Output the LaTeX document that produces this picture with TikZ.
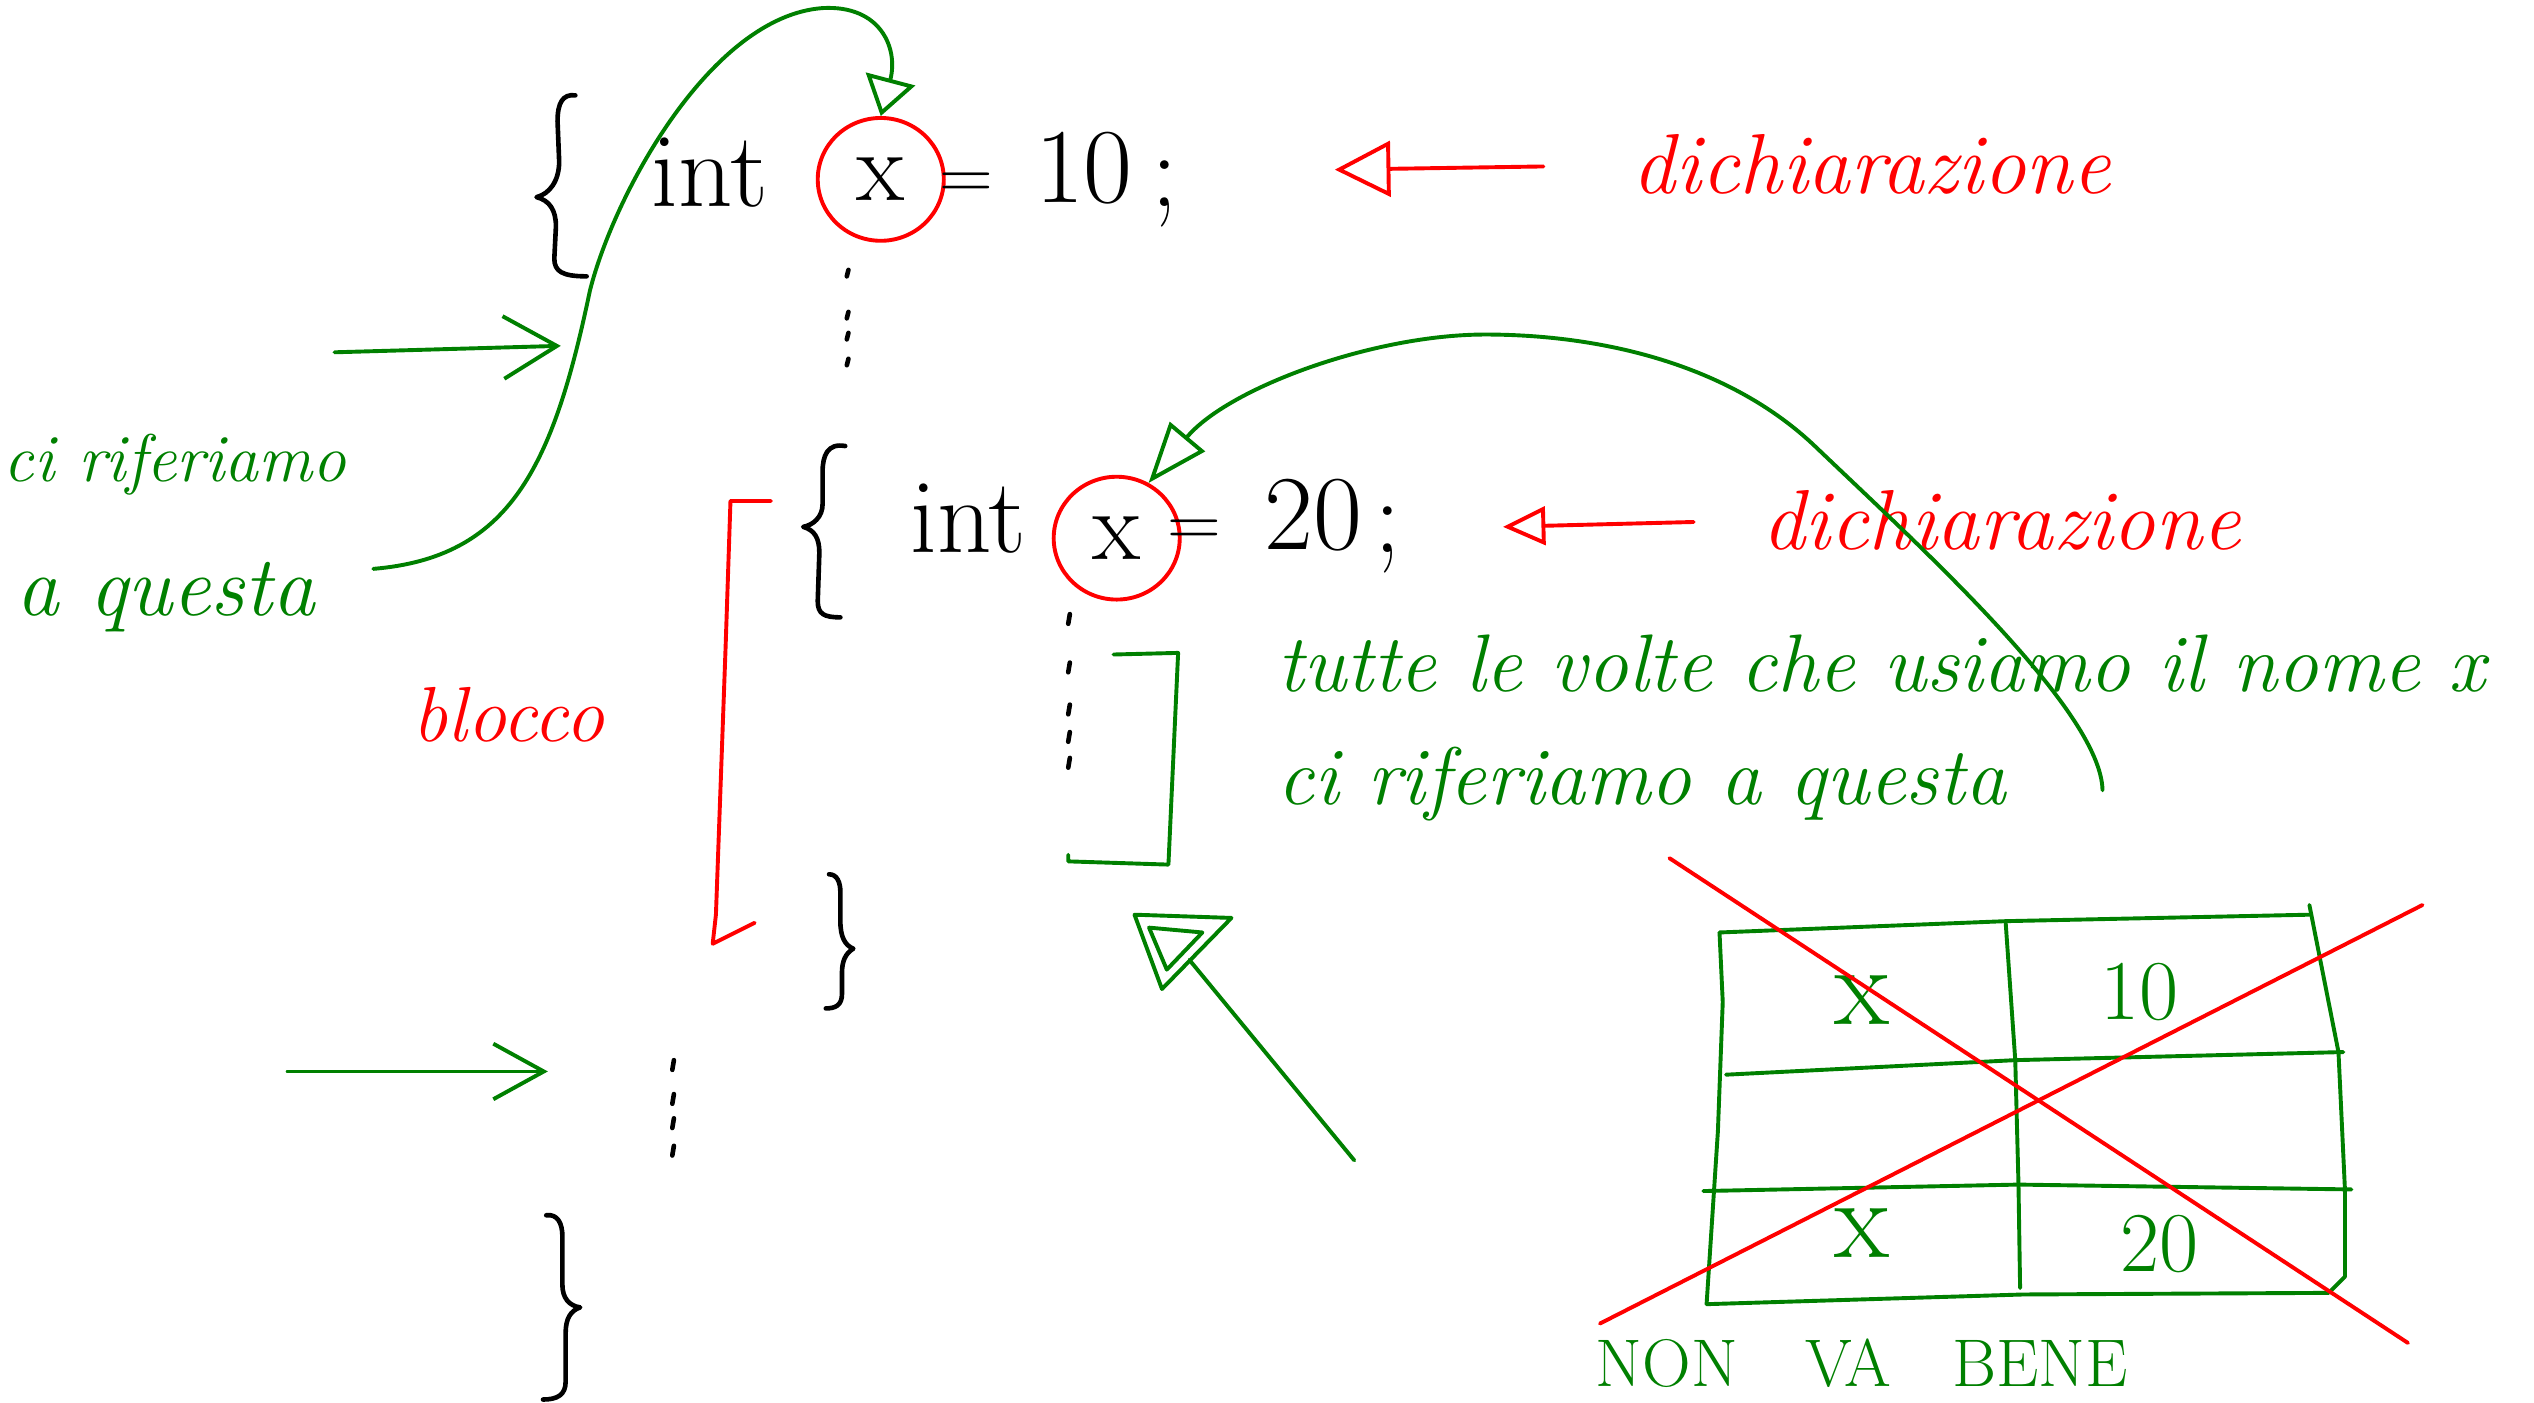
\documentclass[tikz,border=0pt]{standalone}
\usetikzlibrary{arrows.meta,shapes.geometric}
\definecolor{inkgreen}{RGB}{0,128,0}
\definecolor{inkred}{RGB}{255,0,0}
\begin{document}
\begin{tikzpicture}[x=0.016cm,y=-0.016cm,line cap=round,line join=round,
  kline/.style={draw=black,line width=1.3pt},
  gline/.style={draw=inkgreen,line width=1.1pt},
  rline/.style={draw=inkred,line width=1.1pt},
  code/.style={font=\fontsize{30}{32}\selectfont,inner sep=0pt,text=black},
  eqsign/.style={font=\fontsize{21}{22}\selectfont,inner sep=0pt,text=black},
  gnote/.style={font=\itshape\fontsize{23}{26}\selectfont,text=inkgreen,inner sep=0pt},
  rnote/.style={font=\itshape\fontsize{24}{26}\selectfont,text=inkred,inner sep=0pt},
  cell/.style={font=\fontsize{24}{26}\selectfont,text=inkgreen,inner sep=0pt},
  varring/.style={ellipse,draw=inkred,line width=1.1pt,inner sep=0pt,
    minimum width=78*0.016cm,minimum height=76*0.016cm,
    font=\fontsize{28}{30}\selectfont},
]
\useasboundingbox[fill=white] (0,0) rectangle (1568,868);

% ---- outer block, first declaration ----
\draw[kline] (356,59) .. controls (348,58) and (345,64) .. (345,75) -- (346,100)
  .. controls (346,112) and (340,120) .. (332,122)
  .. controls (340,124) and (344,130) .. (344,140) -- (343,160)
  .. controls (343,168) and (348,171) .. (363,171);
\node[code,anchor=base west] (int1) at (403,128) {int};
\node[varring] (x1) at (545,111) {x};
\node[eqsign] (eq1) at (598,115) {=};
\node[code,anchor=base west] (ten) at (640,125) {10};
\node[code,anchor=base] (semi1) at (721,128) {;};
\foreach \y in {167,193,206,222} \draw[kline] (525,\y) -- (524,\y+4);

% ---- inner block, second declaration ----
\draw[kline] (523,276) .. controls (512,274) and (509,282) .. (509,292) -- (509,312)
  .. controls (509,320) and (503,325) .. (497,326)
  .. controls (504,328) and (507,333) .. (507,342) -- (506,372)
  .. controls (506,380) and (510,382) .. (520,382);
\node[code,anchor=base west] (int2) at (563,342) {int};
\node[varring] (x2) at (691,333) {x};
\node[eqsign] (eq2) at (739,330) {=};
\node[code,anchor=base west] (twenty) at (782,340) {20};
\node[code,anchor=base] (semi2) at (859,342) {;};
\foreach \y in {380,410,436,453,469} \draw[kline] (662,\y) -- (661,\y+6);
\draw[kline] (513,541) .. controls (518,541) and (520,546) .. (520,552) -- (520,570)
  .. controls (520,580) and (523,585) .. (528,587)
  .. controls (523,590) and (521,595) .. (521,602) -- (521,615)
  .. controls (521,622) and (517,624) .. (511,624);
\foreach \y in {656,677,692,709} \draw[kline] (417,\y) -- (416,\y+6);
\draw[kline] (338,752) .. controls (345,751) and (348,757) .. (348,765) -- (348,795)
  .. controls (348,803) and (352,808) .. (359,809)
  .. controls (353,811) and (350,816) .. (350,825) -- (350,855)
  .. controls (350,863) and (345,866) .. (336,866);

% ---- red labels: declarations and block ----
\node[rnote,anchor=base west] (decl1) at (1010,120) {dichiarazione};
\coordinate (d1from) at (955,103);
\coordinate (d1to) at (826,105);
\draw[rline,-{Triangle[open,length=0.55cm,width=0.55cm]}] (d1from) -- (d1to);
\node[rnote,anchor=base west] (decl2) at (1090,340) {dichiarazione};
\coordinate (d2from) at (1048,323);
\coordinate (d2to) at (930,326);
\draw[rline,-{Triangle[open,length=0.42cm,width=0.38cm]}] (d2from) -- (d2to);
\node[rnote,font=\itshape\fontsize{22}{24}\selectfont,anchor=base west] (blk) at (255,459) {blocco};
\coordinate (bkA) at (477,310);
\coordinate (bkB) at (452,310);
\coordinate (bkC) at (443,566);
\coordinate (bkD) at (441,584);
\coordinate (bkE) at (467,571);
\draw[rline] (bkA) -- (bkB) -- (449,400) -- (bkC) -- (bkD) -- (bkE);

% ---- green notes on the left ----
\node[gnote,font=\itshape\fontsize{19}{22}\selectfont,anchor=base west] (refer1) at (2,298) {ci riferiamo};
\node[gnote,font=\itshape\fontsize{24}{26}\selectfont,anchor=base west] (refer2) at (10,381) {a questa};
\coordinate (q1) at (231,352);
\draw[gline,-{Triangle[open,length=0.38cm,width=0.5cm]}] (q1)
  .. controls (315,345) and (342,290) .. (365,180)
  .. controls (380,120) and (440,10) .. (509,5)
  .. controls (545,3) and (556,30) .. (x1.north);
\coordinate (p1) at (207,218);
\coordinate (p1e) at (347,214);
\draw[gline,-{Straight Barb[length=0.53cm,width=0.62cm]}] (p1) -- (p1e);
\coordinate (p2) at (178,663);
\coordinate (p2e) at (339,663);
\draw[gline,-{Straight Barb[length=0.5cm,width=0.55cm]}] (p2) -- (p2e);

% ---- green notes on the right ----
\node[gnote,anchor=base west] (every) at (790,428) {tutte le volte che usiamo il nome x};
\node[gnote,anchor=base west] (refer3) at (790,498) {ci riferiamo a questa};
\coordinate (q2) at (1301,489);
\draw[gline,-{Triangle[open,length=0.6cm,width=0.45cm]}] (q2)
  .. controls (1300,440) and (1190,340) .. (1124,277)
  .. controls (1070,225) and (990,207) .. (919,207)
  .. controls (850,207) and (760,240) .. (x2.60);
\coordinate (sA) at (689,405);
\coordinate (sB) at (729,404);
\coordinate (sC) at (723,535);
\coordinate (sD) at (661,533);
\draw[gline] (sA) -- (sB) -- (sC) -- (sD) -- (661,529);
\coordinate (tA) at (702,566);
\coordinate (tB) at (762,568);
\coordinate (tC) at (719,612);
\draw[gline] (tA) -- (tB) -- (tC) -- cycle;
\draw[gline] (711,574) -- (744,577) -- (722,600) -- cycle;
\coordinate (tail) at (838,718);
\draw[gline] (tail) -- (736,594);

% ---- memory table ----
\coordinate (TL) at (1064,577); \coordinate (TM) at (1241,570); \coordinate (TR) at (1429,566);
\coordinate (ML) at (1068,665); \coordinate (MM) at (1247,656); \coordinate (MR) at (1450,651);
\coordinate (LL) at (1054,737); \coordinate (LM) at (1249,733); \coordinate (LR) at (1455,736);
\coordinate (BL) at (1056,807); \coordinate (BM) at (1252,801); \coordinate (BR) at (1441,800);
\draw[gline] (TL) -- (TM) -- (TR);
\draw[gline] (ML) -- (MM) -- (MR);
\draw[gline] (LL) -- (LM) -- (LR);
\draw[gline] (BL) -- (BM) -- (BR);
\draw[gline] (TL) -- (1066,620) -- (1063,700) -- (BL);
\draw[gline] (TM) -- (MM) -- (LM) -- (1250,797);
\draw[gline] (1429,560) -- (1447,651) -- (1451,736) -- (1451,790) -- (BR);
\node[cell,font=\fontsize{32}{34}\selectfont] (cx1) at (1152,619) {x};
\node[cell] (c10) at (1324,614) {10};
\node[cell,font=\fontsize{32}{34}\selectfont] (cx2) at (1152,763) {x};
\node[cell] (c20) at (1336,770) {20};
\draw[rline] (1033,531) -- (1490,831);
\draw[rline] (990,819) -- (1499,560);
\node[font=\fontsize{19}{19}\selectfont,text=inkgreen,inner sep=0pt,anchor=north west] (bad) at (987,828) {NON\hspace{1em}VA\hspace{0.9em}BENE};
\end{tikzpicture}
\end{document}
